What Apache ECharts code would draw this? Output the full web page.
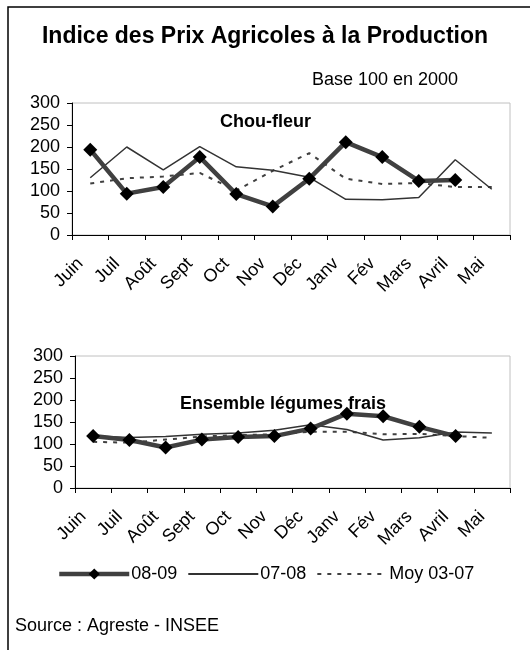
<!DOCTYPE html>
<html>
<head>
<meta charset="utf-8">
<script src="https://cdn.jsdelivr.net/npm/echarts@6/dist/echarts.min.js"></script>
<style>
  html, body { margin: 0; padding: 0; background: #fff; }
  #chart { width: 530px; height: 650px; }
</style>
</head>
<body>
<div id="chart"></div>
<script>
// mois de la campagne
const months = ["Juin", "Juil", "Août", "Sept", "Oct", "Nov", "Déc", "Janv", "Fév", "Mars", "Avril", "Mai"];
const yTicks = [0, 50, 100, 150, 200, 250, 300];

// Chou-fleur
const chou0809 = [194, 94, 109, 177, 93, 65, 128, 211, 177, 123, 125, null];
const chou0708 = [130, 200, 148, 201, 155, 147, 131, 81, 80, 85, 171, 104];
const chouMoy = [117, 129, 133, 141, 101, 146, 186, 128, 116, 118, 109, 109];

// Ensemble légumes frais
const leg0809 = [118, 109, 92, 110, 116, 118, 135, 169, 163, 139, 118, null];
const leg0708 = [118, 115, 117, 122, 125, 131, 144, 133, 109, 114, 127, 125];
const legMoy = [105, 103, 110, 117, 120, 122, 128, 128, 122, 123, 118, 114];

const font = "Liberation Sans, Arial, sans-serif";
const fs = 18;
const chart = echarts.init(document.getElementById("chart"));

function xAxis(gridIndex) {
  return {
    type: "category",
    gridIndex: gridIndex,
    data: months,
    boundaryGap: true,
    axisLine: { lineStyle: { color: "#000", width: 1 } },
    axisTick: { show: true, length: 5, lineStyle: { color: "#000" } },
    axisLabel: {
      interval: 0,
      rotate: 45,
      margin: 16,
      padding: [0, 14, 0, 0],
      color: "#000",
      fontSize: fs,
      fontFamily: font,
    },
  };
}

function yAxis(gridIndex) {
  return {
    type: "value",
    gridIndex: gridIndex,
    min: yTicks[0],
    max: yTicks[yTicks.length - 1],
    interval: 50,
    splitLine: { show: false },
    axisLine: { show: true, lineStyle: { color: "#000", width: 1 } },
    axisTick: { show: true, length: 5, lineStyle: { color: "#000" } },
    axisLabel: { color: "#000", fontSize: fs, fontFamily: font, margin: 12 },
  };
}

function seriesFor(idx, d0809, d0708, dMoy) {
  return [
    {
      name: "Moy 03-07",
      type: "line",
      xAxisIndex: idx,
      yAxisIndex: idx,
      data: dMoy,
      symbol: "none",
      lineStyle: { color: "#404040", width: 2, type: [4, 6] },
      itemStyle: { color: "#404040" },
      z: 2,
    },
    {
      name: "07-08",
      type: "line",
      xAxisIndex: idx,
      yAxisIndex: idx,
      data: d0708,
      symbol: "none",
      lineStyle: { color: "#333", width: 1.5 },
      itemStyle: { color: "#333" },
      z: 3,
    },
    {
      name: "08-09",
      type: "line",
      xAxisIndex: idx,
      yAxisIndex: idx,
      data: d0809,
      symbol: "diamond",
      symbolSize: 14,
      lineStyle: { color: "#404040", width: 4.5 },
      itemStyle: { color: "#000" },
      z: 4,
    },
  ];
}

const hidden = { color: "rgba(0,0,0,0)", borderWidth: 0, opacity: 0 };

const option = {
  animation: false,
  backgroundColor: "#fff",
  textStyle: { fontFamily: font },
  title: [
    {
      text: "Indice des Prix Agricoles à la Production",
      left: "center",
      top: 20,
      textStyle: { fontSize: 23, fontWeight: "bold", color: "#000", fontFamily: font },
    },
    {
      text: "Base 100 en 2000",
      left: 307,
      top: 66,
      textStyle: { fontSize: fs, fontWeight: "normal", color: "#000", fontFamily: font },
    },
    {
      text: "Chou-fleur",
      left: 215,
      top: 108,
      textStyle: { fontSize: fs, fontWeight: "bold", color: "#000", fontFamily: font },
    },
    {
      text: "Ensemble légumes frais",
      left: 175,
      top: 390,
      textStyle: { fontSize: fs, fontWeight: "bold", color: "#000", fontFamily: font },
    },
    {
      text: "Source : Agreste - INSEE",
      left: 10,
      top: 612,
      textStyle: { fontSize: fs, fontWeight: "normal", color: "#000", fontFamily: font },
    },
  ],
  legend: {
    data: [
      { name: "08-09", lineStyle: { width: 4.5, color: "#404040" }, itemStyle: { color: "#000" } },
      { name: "07-08", itemStyle: hidden },
      { name: "Moy 03-07", itemStyle: hidden },
    ],
    left: 57,
    top: 565,
    padding: 0,
    itemWidth: 70,
    itemHeight: 14,
    itemGap: 10,
    textStyle: { fontSize: fs, color: "#000", fontFamily: font, padding: [0, 0, 0, -3] },
  },
  graphic: [
    {
      type: "rect",
      shape: { x: 8, y: 7, width: 540, height: 660 },
      style: { fill: "none", stroke: "#000", lineWidth: 1.5 },
      silent: true,
    },
  ],
  grid: [
    { left: 72, top: 103, width: 438, height: 132, show: true, borderColor: "#c0c0c0", borderWidth: 1 },
    { left: 75, top: 356, width: 435, height: 132, show: true, borderColor: "#c0c0c0", borderWidth: 1 },
  ],
  xAxis: [xAxis(0), xAxis(1)],
  yAxis: [yAxis(0), yAxis(1)],
  series: [].concat(
    seriesFor(0, chou0809, chou0708, chouMoy),
    seriesFor(1, leg0809, leg0708, legMoy)
  ),
};

chart.setOption(option);
</script>
</body>
</html>
